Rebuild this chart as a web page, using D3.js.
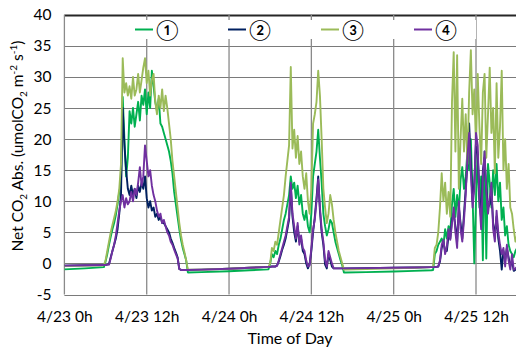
<!DOCTYPE html>
<html><head><meta charset="utf-8">
<script src="https://cdn.jsdelivr.net/npm/d3@7"></script>
<style>
body{margin:0;background:#fff}
svg{display:block}
text{font-family:Lato,"Liberation Sans",sans-serif;fill:#000}
</style>
</head><body>
<svg id="chart" width="516" height="347"></svg>
<script>
// time in hours from 4/23 0h
const hours = [0,3,5.75,
6,6.25,6.5,6.75,7,7.25,7.5,7.75,8,8.25,8.5,8.75,9,9.25,9.5,9.75,10,10.25,10.5,10.75,11,11.25,11.5,11.75,12,12.25,12.5,12.75,13,13.25,13.5,13.75,14,14.25,14.5,14.75,15,15.25,15.5,15.75,16,16.25,16.5,16.75,17,17.25,17.5,17.75,18,
20,24,27,29.75,
30,30.25,30.5,30.75,31,31.25,31.5,31.75,32,32.25,32.5,32.75,33,33.25,33.5,33.75,34,34.25,34.5,34.75,35,35.25,35.5,35.75,36,36.25,36.5,36.75,37,37.25,37.5,37.75,38,38.25,38.5,38.75,39,39.25,39.5,39.75,40,40.25,40.5,40.75,41,
44,48,51,53.5,
53.75,54,54.25,54.5,54.75,55,55.25,55.5,55.75,56,56.25,56.5,56.75,57,57.25,57.5,57.75,58,58.25,58.5,58.75,59,59.25,59.5,59.75,60,60.25,60.5,60.75,61,61.25,61.5,61.75,62,62.25,62.5,62.75,63,63.25,63.5,63.75,64,64.25,64.5,64.75,65,65.25,65.5,65.75,66];

const series1 = [-0.95,-0.8,-0.6,
0.3,1.5,3.0,4.3,5.5,6.5,7.8,9.5,11.5,13.0,26.8,20.0,14.0,17.0,24.5,22.5,25.0,22.0,24.0,26.0,23.0,27.0,25.5,28.0,24.0,27.5,25.0,31.0,28.5,26.0,24.5,26.5,22.5,22.0,21.0,20.0,19.0,18.0,16.5,14.5,11.5,9.5,7.5,5.5,3.8,2.5,1.5,0.5,-1.45,
-1.4,-1.25,-1.1,-0.95,
0.0,1.5,1.0,2.0,1.5,3.0,4.0,5.5,7.0,8.0,9.5,11.0,14.0,12.0,13.0,10.5,12.5,9.5,11.0,8.0,7.0,8.5,6.0,5.0,8.0,14.0,16.0,18.0,21.5,17.0,13.0,8.0,6.0,4.5,5.5,7.0,6.5,5.0,3.5,2.5,1.5,0.5,-0.3,-1.45,-1.45,
-1.4,-1.3,-1.2,-1.1,
-1.05,1.5,2.0,3.0,3.5,4.0,3.0,5.5,4.0,6.0,5.0,9.5,12.0,7.5,11.0,8.5,13.5,15.5,12.0,14.0,18.0,15.0,20.0,11.0,0.0,10.0,17.5,9.0,14.0,0.5,18.0,0.8,16.0,13.0,9.0,15.0,11.0,16.0,10.0,13.0,7.0,9.0,4.5,6.0,3.0,2.0,1.5,1.0,2.0,2.5];

const series2 = [-0.35,-0.3,-0.25,
-0.25,-0.2,-0.1,1.0,2.0,3.0,4.0,5.5,8.0,11.0,25.0,19.0,15.0,12.0,11.0,12.5,11.0,12.0,10.5,12.5,11.5,13.0,12.0,14.0,10.5,9.0,10.0,8.5,9.0,7.5,8.0,7.0,7.5,6.5,6.5,6.0,5.5,5.0,4.0,3.3,2.5,1.8,1.0,-0.9,-1.05,-1.05,-1.05,-1.05,-1.05,
-1.0,-0.85,-0.7,-0.55,
-0.55,-0.5,-0.5,-0.5,-0.3,0.3,1.2,2.2,3.0,4.0,5.5,7.0,12.5,7.5,5.0,3.5,6.0,3.5,4.0,2.0,1.5,0.0,-0.8,0.0,2.0,5.0,7.5,10.5,14.0,8.5,5.0,3.0,-0.2,-0.8,1.5,0.5,-0.5,-0.8,-0.8,-0.8,-0.8,-0.8,-0.8,-0.8,-0.8,
-0.75,-0.7,-0.65,-0.6,
-0.6,-0.6,-0.55,-0.5,0.3,2.5,3.5,2.0,2.0,4.5,4.0,7.0,8.0,6.0,3.5,9.0,6.5,4.0,8.0,12.0,16.0,22.5,16.0,10.0,13.0,19.5,17.5,11.0,7.0,15.0,17.0,12.0,9.0,9.5,11.5,6.5,4.5,7.5,4.0,2.0,-1.0,2.0,0.5,2.5,1.0,-0.5,0.5,-1.2,-1.0,-0.8];

const series3 = [-0.4,-0.35,-0.3,
0.5,2.0,3.5,5.0,6.2,7.3,8.5,10.0,12.0,16.0,33.0,27.5,29.0,27.0,28.5,26.5,30.0,27.0,28.0,30.5,27.5,29.5,31.5,33.0,29.0,31.0,27.0,29.5,30.5,26.0,24.0,27.0,25.0,28.0,24.5,27.0,25.0,22.5,20.0,16.5,14.0,11.5,9.0,6.5,4.5,3.0,1.8,0.5,-1.0,
-1.0,-0.85,-0.7,-0.55,
0.0,2.5,2.0,3.5,3.0,5.0,7.0,9.0,11.0,14.0,16.5,19.0,31.6,18.5,21.5,17.0,20.5,16.0,18.0,14.0,12.0,14.5,10.0,8.0,12.0,22.5,24.0,26.0,31.0,27.0,20.0,12.0,9.0,6.5,8.0,11.0,9.5,7.0,5.0,3.5,2.0,1.0,0.0,-1.0,-1.0,
-0.9,-0.8,-0.7,-0.6,
-0.5,2.5,3.0,5.0,9.0,14.5,10.0,13.0,8.0,11.5,7.5,26.0,34.0,18.0,33.5,12.0,20.0,26.5,18.0,24.0,16.0,27.5,34.3,24.0,28.0,19.0,30.5,22.0,16.0,27.5,30.5,17.0,24.0,31.5,21.0,25.0,14.5,29.0,17.0,22.0,31.0,15.0,20.0,12.0,16.0,9.0,8.0,5.5,3.5,4.5];

const series4 = [-0.35,-0.3,-0.25,
-0.25,-0.2,-0.2,0.8,2.0,3.0,4.5,6.5,8.5,10.0,11.0,9.0,10.5,9.5,10.0,11.5,10.0,12.0,11.0,13.0,15.5,12.5,14.0,19.0,16.5,14.0,15.0,12.5,11.0,10.0,8.5,7.5,8.0,6.5,7.0,6.0,5.0,4.5,3.5,3.0,2.2,1.5,0.8,-0.9,-1.05,-1.05,-1.05,-1.05,-1.05,
-1.0,-0.85,-0.7,-0.55,
-0.55,-0.5,-0.5,-0.5,-0.4,0.5,1.5,2.5,3.5,4.5,6.0,7.5,13.0,8.0,6.0,4.0,6.5,3.0,4.5,2.5,2.0,0.5,-0.5,-0.3,2.5,5.5,7.0,10.0,13.5,9.0,5.5,3.5,0.5,-0.5,2.0,1.0,0.0,-0.8,-0.8,-0.8,-0.8,-0.8,-0.8,-0.8,-0.8,
-0.75,-0.7,-0.65,-0.6,
-0.6,-0.6,-0.55,-0.5,0.5,3.0,3.8,1.5,2.7,5.5,3.8,6.5,9.0,5.0,2.5,10.0,5.5,3.5,7.0,11.0,17.0,21.0,14.5,9.0,12.0,21.0,19.0,10.0,5.5,14.0,18.0,11.5,8.0,10.5,13.0,5.5,3.5,8.5,5.0,3.0,1.5,2.5,-0.5,3.0,0.5,-1.0,1.5,-1.0,-0.8,-0.5];

const seriesNames = ["①","②","③","④"];
const xTickHours = [0,12,24,36,48,60];
const xTickLabels = ["4/23 0h","4/23 12h","4/24 0h","4/24 12h","4/25 0h","4/25 12h"];
const yTicks = [-5,0,5,10,15,20,25,30,35,40];

const colors = ["#00b050","#002060","#9bbb59","#7030a0"];
const allSeries = [series1, series2, series3, series4];

const svg = d3.select("#chart");
const L = 64.4, T = 14.8, B = 294.5;
const x = d3.scaleLinear().domain([0,72]).range([L, L + 72*6.86]);
const y = d3.scaleLinear().domain([-5,40]).range([B, T]);

svg.append("defs").append("clipPath").attr("id","clip")
  .append("rect").attr("x",L).attr("y",T-2).attr("width",516-L).attr("height",B-T+4);

// horizontal gridlines
svg.append("g").selectAll("line").data(yTicks).join("line")
  .attr("x1",L).attr("x2",516)
  .attr("y1",d=>Math.round(y(d))+0.5).attr("y2",d=>Math.round(y(d))+0.5)
  .attr("stroke",d=>d===40?"#262626":"#7a7a7a")
  .attr("stroke-width",d=>d===40?2:1.2);

// vertical gridlines
svg.append("g").selectAll("line").data(xTickHours).join("line")
  .attr("x1",d=>x(d)).attr("x2",d=>x(d))
  .attr("y1",T).attr("y2",B)
  .attr("stroke","#8a8a8a").attr("stroke-width",1.3);

// y tick labels via axis
const yAxis = svg.append("g").attr("transform",`translate(${L-13},0)`)
  .call(d3.axisLeft(y).tickValues(yTicks).tickSize(0).tickPadding(0).tickFormat(d=>d));
yAxis.select(".domain").remove();
yAxis.selectAll("text").attr("font-size",15.5).attr("font-family","Lato, sans-serif").attr("fill","#000");

// x tick labels via axis
const xAxis = svg.append("g").attr("transform",`translate(0,${B+16})`)
  .call(d3.axisBottom(x).tickValues(xTickHours).tickSize(0).tickPadding(0)
    .tickFormat((d,i)=>xTickLabels[i]));
xAxis.select(".domain").remove();
xAxis.selectAll("text").attr("font-size",15.5).attr("font-family","Lato, sans-serif").attr("fill","#000");

// series lines
const line = d3.line().x((d,i)=>x(hours[i])).y(d=>y(d));
const lg = svg.append("g").attr("clip-path","url(#clip)");
allSeries.forEach((s,k)=>{
  lg.append("path").datum(s).attr("d",line)
    .attr("fill","none").attr("stroke",colors[k])
    .attr("stroke-width",1.9).attr("stroke-linejoin","round");
});

// legend
const leg = svg.append("g");
leg.append("rect").attr("x",126).attr("y",20).attr("width",350).attr("height",19).attr("fill","#fff");
seriesNames.forEach((n,k)=>{
  const lx = 135 + k*93;
  leg.append("line").attr("x1",lx).attr("x2",lx+18).attr("y1",29.5).attr("y2",29.5)
    .attr("stroke",colors[k]).attr("stroke-width",2);
  leg.append("text").attr("x",lx+21).attr("y",36.5).attr("font-size",20)
    .attr("font-family","'DejaVu Sans',sans-serif").text(n);
});

// axis titles
svg.append("text").attr("x",290).attr("y",344).attr("text-anchor","middle")
  .attr("font-size",16).text("Time of Day");

const yt = svg.append("text").attr("transform","translate(23,146) rotate(-90)")
  .attr("text-anchor","middle").attr("font-size",15.5);
yt.append("tspan").text("Net CO");
yt.append("tspan").attr("font-size",10).attr("dy",4).text("2");
yt.append("tspan").attr("dy",-4).text(" Abs.  (umolCO");
yt.append("tspan").attr("font-size",10).attr("dy",4).text("2");
yt.append("tspan").attr("dy",-4).text(" m");
yt.append("tspan").attr("font-size",10).attr("dy",-6).text("-2");
yt.append("tspan").attr("dy",6).text(" s");
yt.append("tspan").attr("font-size",10).attr("dy",-6).text("-1");
yt.append("tspan").attr("dy",6).text(")");
</script>
</body></html>
